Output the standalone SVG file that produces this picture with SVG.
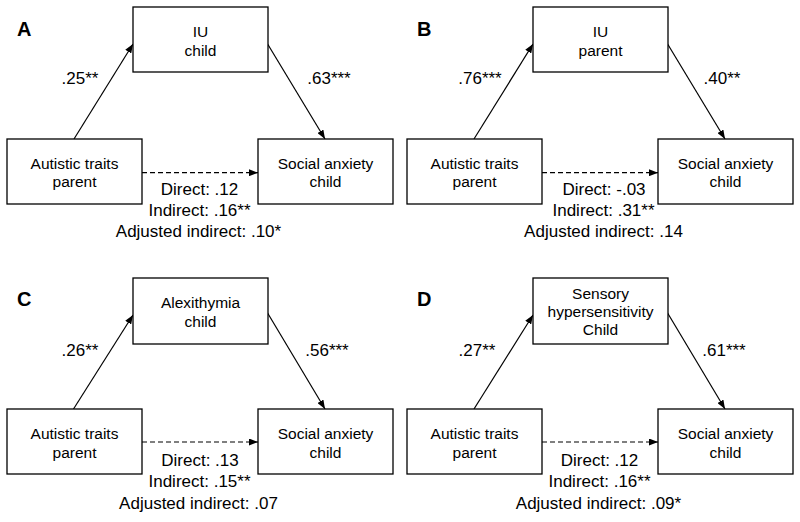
<svg xmlns="http://www.w3.org/2000/svg" width="800" height="522" viewBox="0 0 800 522">
<defs>
<style>
rect.box{fill:#fff;stroke:#000;stroke-width:1.3}
text{font-family:"Liberation Sans",Arial,sans-serif;fill:#000}
.n{font-size:15.5px;text-anchor:middle}
.l{font-size:17px;text-anchor:middle}
.p{font-size:20px;font-weight:bold}
.e{stroke:#000;stroke-width:1.2;fill:none;marker-end:url(#ah)}
.d{stroke-dasharray:5,3}
</style>
<marker id="ah" markerUnits="userSpaceOnUse" markerWidth="9" markerHeight="7" refX="9" refY="3.5" orient="auto">
<path d="M0,0 L9,3.5 L0,7 z" fill="#000"/>
</marker>
</defs>
<rect width="800" height="522" fill="#fff"/>

<g id="connectors">
<!-- A -->
<line class="e" x1="74" y1="139" x2="133" y2="44"/>
<line class="e" x1="267" y1="43" x2="325" y2="139"/>
<line class="e d" x1="142" y1="172.7" x2="258" y2="172.7"/>
<!-- B -->
<line class="e" x1="474" y1="139" x2="533" y2="44"/>
<line class="e" x1="667" y1="43" x2="725" y2="139"/>
<line class="e d" x1="542" y1="172.7" x2="658" y2="172.7"/>
<!-- C -->
<line class="e" x1="73.5" y1="409" x2="133" y2="315"/>
<line class="e" x1="267" y1="312" x2="325" y2="409"/>
<line class="e d" x1="142" y1="442" x2="258" y2="442"/>
<!-- D -->
<line class="e" x1="474" y1="409" x2="533" y2="315"/>
<line class="e" x1="667" y1="312" x2="725" y2="409"/>
<line class="e d" x1="542" y1="442" x2="658" y2="442"/>
</g>

<!-- Panel A -->
<g id="panelA">
<text class="p" x="17" y="36">A</text>
<g id="A-mediator"><rect class="box" x="133" y="7" width="135" height="65"/><text class="n" x="200.5" y="37">IU</text><text class="n" x="200.5" y="56">child</text></g>
<g id="A-predictor"><rect class="box" x="7" y="139" width="135" height="65"/><text class="n" x="74.5" y="168.5">Autistic traits</text><text class="n" x="74.5" y="187">parent</text></g>
<g id="A-outcome"><rect class="box" x="258" y="139" width="135" height="65"/><text class="n" x="325.5" y="168.5">Social anxiety</text><text class="n" x="325.5" y="187">child</text></g>
<text class="l" x="80" y="84">.25**</text>
<text class="l" x="329" y="84">.63***</text>
<text class="l" x="199.5" y="195">Direct: .12</text>
<text class="l" x="199.5" y="216">Indirect: .16**</text>
<text class="l" x="198.5" y="237">Adjusted indirect: .10*</text>
</g>

<!-- Panel B -->
<g id="panelB">
<text class="p" x="417" y="36">B</text>
<g id="B-mediator"><rect class="box" x="533" y="7" width="135" height="65"/><text class="n" x="600.5" y="37">IU</text><text class="n" x="600.5" y="56">parent</text></g>
<g id="B-predictor"><rect class="box" x="407" y="139" width="135" height="65"/><text class="n" x="474.5" y="168.5">Autistic traits</text><text class="n" x="474.5" y="187">parent</text></g>
<g id="B-outcome"><rect class="box" x="658" y="139" width="135" height="65"/><text class="n" x="725.5" y="168.5">Social anxiety</text><text class="n" x="725.5" y="187">child</text></g>
<text class="l" x="480" y="84">.76***</text>
<text class="l" x="722" y="84">.40**</text>
<text class="l" x="604" y="195">Direct: -.03</text>
<text class="l" x="603.5" y="216">Indirect: .31**</text>
<text class="l" x="603.5" y="237">Adjusted indirect: .14</text>
</g>

<!-- Panel C -->
<g id="panelC">
<text class="p" x="17" y="306">C</text>
<g id="C-mediator"><rect class="box" x="133" y="278" width="135" height="66"/><text class="n" x="200.5" y="308">Alexithymia</text><text class="n" x="200.5" y="327">child</text></g>
<g id="C-predictor"><rect class="box" x="7" y="409" width="135" height="65"/><text class="n" x="74.5" y="439">Autistic traits</text><text class="n" x="74.5" y="457.5">parent</text></g>
<g id="C-outcome"><rect class="box" x="258" y="409" width="135" height="65"/><text class="n" x="325.5" y="439">Social anxiety</text><text class="n" x="325.5" y="457.5">child</text></g>
<text class="l" x="80" y="356">.26**</text>
<text class="l" x="327" y="356">.56***</text>
<text class="l" x="200" y="466">Direct: .13</text>
<text class="l" x="199.5" y="487">Indirect: .15**</text>
<text class="l" x="198.5" y="508.5">Adjusted indirect: .07</text>
</g>

<!-- Panel D -->
<g id="panelD">
<text class="p" x="417" y="306">D</text>
<g id="D-mediator"><rect class="box" x="533" y="278" width="135" height="66"/><text class="n" x="600.5" y="298.5">Sensory</text><text class="n" x="600.5" y="317">hypersensitivity</text><text class="n" x="600.5" y="335">Child</text></g>
<g id="D-predictor"><rect class="box" x="407" y="409" width="135" height="65"/><text class="n" x="474.5" y="439">Autistic traits</text><text class="n" x="474.5" y="457.5">parent</text></g>
<g id="D-outcome"><rect class="box" x="658" y="409" width="135" height="65"/><text class="n" x="725.5" y="439">Social anxiety</text><text class="n" x="725.5" y="457.5">child</text></g>
<text class="l" x="477" y="356">.27**</text>
<text class="l" x="724" y="356">.61***</text>
<text class="l" x="599.5" y="466">Direct: .12</text>
<text class="l" x="599.5" y="487">Indirect: .16**</text>
<text class="l" x="598.5" y="508.5">Adjusted indirect: .09*</text>
</g>
</svg>
